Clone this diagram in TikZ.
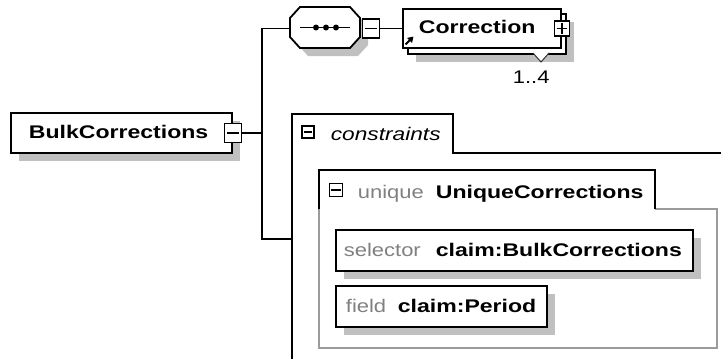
\documentclass[tikz,border=0pt]{standalone}
\usepackage{fontspec}
\setmainfont{Liberation Sans}
\newfontfamily\labfont[FakeStretch=1.2,BoldFeatures={FakeStretch=1.26},ItalicFeatures={FakeStretch=1.24}]{Liberation Sans}
\usetikzlibrary{shadows,arrows.meta}
\definecolor{shadowgray}{RGB}{192,192,192}
\definecolor{labgray}{RGB}{128,128,128}
\definecolor{framegray}{RGB}{155,155,155}
\begin{document}
\begin{tikzpicture}[x=1pt,y=-1pt,line width=1.8pt,
  shadowed/.style={drop shadow={shadow xshift=8pt,shadow yshift=-8pt,fill=shadowgray,opacity=1}},
  elem/.style={draw=black,fill=white,rectangle,inner sep=0pt,anchor=north west},
  toggle/.style={draw=black,fill=white,rectangle,inner sep=0pt,line width=1.6pt},
  txt/.style={inner sep=0pt,anchor=base west,font=\labfont\fontsize{18.3}{20}\selectfont},
  boldtxt/.style={txt,font=\labfont\fontsize{18.3}{20}\selectfont\bfseries},
  graytxt/.style={txt,text=labgray},
  ittxt/.style={txt,font=\labfont\fontsize{18.3}{20}\selectfont\itshape}]
\useasboundingbox (0,0) rectangle (721,359);
% trunk
\coordinate (trunk) at (262,0);
\coordinate (consin) at (292,239);
% root element
\node[elem,shadowed,minimum width=221pt,minimum height=40pt] (root) at (10,112) {};
\node[boldtxt] (roottxt) at (28,138) {BulkCorrections};
\node[toggle,minimum width=17pt,minimum height=19pt] (rootminus) at (root.east) {};
\draw[line width=1.6pt] ([xshift=3.5pt]rootminus.west) -- ([xshift=-3.5pt]rootminus.east);
% sequence compositor
\fill[shadowgray] (308,15) -- (358,15) -- (368,26) -- (368,45) -- (358,56) -- (308,56) -- (298,45) -- (298,26) -- cycle;
\node[inner sep=0pt,minimum width=70pt,minimum height=41pt,anchor=north west] (seq) at (290,7) {};
\filldraw[fill=white] (300,7) -- (350,7) -- (360,18) -- (360,37) -- (350,48) -- (300,48) -- (290,37) -- (290,18) -- cycle;
\draw (300,27.5) -- (350,27.5);
\fill (316,27.5) circle (3pt) (326,27.5) circle (3pt) (336,27.5) circle (3pt);
\node[toggle,minimum width=17pt,minimum height=19pt,anchor=west] (seqminus) at (seq.east) {};
\draw[line width=1.6pt] ([xshift=3.5pt]seqminus.west) -- ([xshift=-3.5pt]seqminus.east);
% connectors from root
\draw (rootminus.east) -- (rootminus.east -| trunk);
\draw (seq.west) -- (seq.west -| trunk) |- (consin);
% Correction element (multiple)
\node[elem,shadowed,minimum width=158pt,minimum height=40pt] (corrback) at (407,13) {};
\node[elem,minimum width=158pt,minimum height=39pt] (corr) at (402,8) {};
\draw (seqminus.east) -- (corr.west);
\node[boldtxt] (corrtxt) at (418,33) {Correction};
\node[toggle,minimum width=15pt,minimum height=15pt] (corrplus) at (corr.east) {};
\draw[line width=1.6pt] ([xshift=3pt]corrplus.west) -- ([xshift=-3pt]corrplus.east);
\draw[line width=1.6pt] ([yshift=-3pt]corrplus.north) -- ([yshift=3pt]corrplus.south);
\fill[white] (533,53) -- (549,53) -- (541,62) -- cycle;
\draw[line width=1pt,black!80] (533,53) -- (541,62) -- (549,53);
\draw[line width=2pt,-{Triangle[length=5.5pt,width=6.5pt]}] (405.5,44.5) -- (413.5,36.5);
\node[txt] (card) at (512,83) {1..4};
% constraints
\draw (292,359) -- (292,114) -- (453,114) -- (453,153) -- (721,153);
\node[toggle,minimum width=12pt,minimum height=12pt,line width=1.4pt] (consminus) at (308,132) {};
\draw[line width=1.4pt] ([xshift=2.5pt]consminus.west) -- ([xshift=-2.5pt]consminus.east);
\node[ittxt] (constxt) at (330,140) {constraints};
% unique
\draw[framegray,line width=1.3pt] (319,209) -- (319,348) -- (717,348) -- (717,209) -- (655,209);
\draw (319,209) -- (319,170) -- (655,170) -- (655,209);
\node[toggle,minimum width=13pt,minimum height=13pt,line width=1.4pt] (uniqminus) at (336,190) {};
\draw[line width=1.4pt] ([xshift=2.5pt]uniqminus.west) -- ([xshift=-2.5pt]uniqminus.east);
\node[graytxt] (uniqkw) at (357,198) {unique};
\node[boldtxt] (uniqname) at (435,198) {UniqueCorrections};
% selector
\node[elem,shadowed,minimum width=357pt,minimum height=41pt] (sel) at (335,229) {};
\node[graytxt] (selkw) at (343,256) {selector};
\node[boldtxt] (selval) at (435,256) {claim:BulkCorrections};
% field
\node[elem,shadowed,minimum width=211pt,minimum height=41pt] (fld) at (335,285) {};
\node[graytxt] (fldkw) at (345,312) {field};
\node[boldtxt] (fldval) at (397,312) {claim:Period};
\end{tikzpicture}
\end{document}
